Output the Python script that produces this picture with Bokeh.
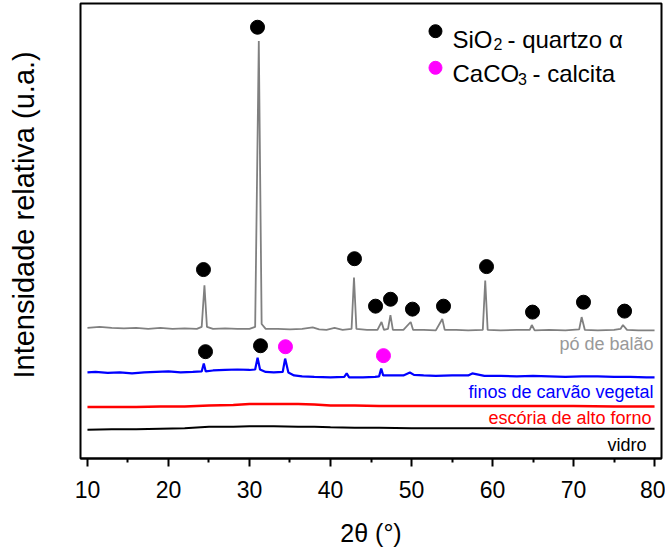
from bokeh.plotting import figure
from bokeh.models import Range1d, FixedTicker, Label
from bokeh.embed import file_html
from bokeh.resources import INLINE

# ---- data (intensity in arbitrary units, offset per sample) ----
po_x = [10.0, 11.5, 13, 14.5, 16, 17.5, 19, 20.5, 22, 23.5, 24.1, 24.44, 24.75, 25.5, 27, 28.5,
        30, 30.7, 31.15, 31.5, 32, 33.5, 35, 36.5, 37.8, 38.6, 39.5, 40.5, 41.5, 42.6, 42.9, 43.2,
        44.5, 45.8, 46.3, 46.6, 47.1, 47.4, 47.7, 49, 49.9, 50.2, 51.5, 53, 53.8, 54.1, 55.5, 57,
        58.8, 59.1, 59.4, 61, 63, 64.6, 64.85, 65.2, 67, 69, 70.7, 71.0, 71.4, 73, 75, 75.8, 76.1,
        76.6, 78, 80]
po_y = [132, 133, 132, 131.5, 132, 131, 132, 131, 131.5, 131, 133, 175, 133, 131, 131.5, 131,
        131, 133, 422, 136, 131, 131, 130.5, 131, 132.5, 130.5, 130, 132, 130, 131, 183, 131,
        130, 130, 138, 130, 131, 145, 130, 130, 138, 130, 130, 129.5, 141, 130, 130, 129.5,
        130, 180, 130, 129.5, 130, 130, 135, 129.5, 130, 129.5, 130.5, 143, 130, 129.5, 130, 131, 135,
        130, 129.5, 129.5]

finos_x = [10, 11, 12.5, 14, 15.5, 17, 18.5, 20, 21.5, 23, 24.1, 24.36, 24.6, 25.5, 27, 28.5, 30,
           30.7, 31.0, 31.3, 32, 33, 34.1, 34.4, 34.8, 35.5, 36.5, 38, 40, 41.7, 42.0, 42.3, 44,
           45.5, 46.0, 46.26, 46.5, 47.5, 49, 49.8, 50.3, 51.5, 53, 55, 57, 57.5, 59, 61, 63, 65,
           67, 69, 71, 73, 75, 77, 79, 80]
finos_y = [87, 87.5, 86.5, 87, 86, 87, 87.5, 88, 87, 87.5, 88, 96, 88, 89, 89.5, 90, 89.5,
           90, 102, 90, 87.5, 87, 87.5, 101, 87, 84, 83, 82.5, 82, 82.5, 86, 82, 82,
           82.5, 83, 91, 84, 84, 84, 87, 84.5, 84, 83.5, 84, 84, 86, 83.5, 83.5, 83, 83.5,
           83, 82.5, 83, 83, 82.5, 82.5, 82, 82]

escoria_x = [10, 13, 16, 19, 22, 25, 28, 30, 33, 36, 38, 40, 43, 46, 50, 55, 60, 65, 70, 75, 80]
escoria_y = [52, 52, 52, 52.5, 52.5, 53.5, 54, 55, 55, 55, 54.5, 53.5, 53.5, 53, 53, 53, 53, 53, 53, 52.5, 52.5]

vidro_x = [10, 13, 16, 19, 22, 25, 28, 30, 33, 36, 38, 40, 43, 46, 50, 55, 60, 65, 70, 75, 80]
vidro_y = [29, 29.5, 29.5, 30, 30.5, 32, 32, 32.5, 32.5, 32, 32, 31.5, 31, 31, 30.5, 30.5, 30.5, 30, 30, 30, 30]

# phase markers (peak identification)
quartzo_x = [24.32, 30.99, 42.96, 45.56, 47.41, 50.12, 53.95, 59.26, 64.94, 71.23, 76.30, 24.57, 31.36]
quartzo_y = [191, 436, 202, 154, 161, 151, 154, 194, 148, 158, 149, 108, 114]
calcita_x = [34.44, 46.54]
calcita_y = [113, 104]

x_ticks = [10, 20, 30, 40, 50, 60, 70, 80]
x_minor = [15, 25, 35, 45, 55, 65, 75]

FONT = "Liberation Sans"

p = figure(width=665, height=549, output_backend="svg", toolbar_location=None,
           x_range=Range1d(9.14, 80.86), y_range=Range1d(0, 460),
           min_border_left=80, min_border_right=4, min_border_top=3, min_border_bottom=86)
p.xgrid.visible = False
p.ygrid.visible = False
p.outline_line_color = "black"
p.outline_line_width = 2
p.background_fill_color = "white"
p.border_fill_color = "white"

ax = p.xaxis[0]
ax.ticker = FixedTicker(ticks=x_ticks, minor_ticks=x_minor)
ax.axis_line_width = 2
ax.major_tick_in = 0
ax.major_tick_out = 8
ax.minor_tick_in = 0
ax.minor_tick_out = 4
ax.major_tick_line_width = 2
ax.minor_tick_line_width = 2
ax.major_label_text_font = FONT
ax.major_label_text_font_size = "23px"
ax.major_label_text_color = "black"
ax.major_label_standoff = 14
ax.axis_label = "2θ (°)"
ax.axis_label_text_font = FONT
ax.axis_label_text_font_size = "25px"
ax.axis_label_text_font_style = "normal"
ax.axis_label_text_color = "black"
ax.axis_label_standoff = 18

# y axis: no ticks, only the title (leading no-break spaces lift it, as in the original)
ay = p.yaxis[0]
ay.ticker = FixedTicker(ticks=[], minor_ticks=[])
ay.axis_line_color = None
ay.major_tick_line_color = None
ay.minor_tick_line_color = None
ay.major_label_standoff = 0
ay.major_tick_out = 0
ay.minor_tick_out = 0
ay.axis_label = "\u00a0\u00a0\u00a0\u00a0Intensidade relativa (u.a.)"
ay.axis_label_text_font = FONT
ay.axis_label_text_font_size = "29px"
ay.axis_label_text_font_style = "normal"
ay.axis_label_text_color = "black"
ay.axis_label_standoff = 41

p.line(vidro_x, vidro_y, line_color="black", line_width=2)
p.line(escoria_x, escoria_y, line_color="#ff0000", line_width=2.5)
p.line(finos_x, finos_y, line_color="#0000ff", line_width=2.2)
p.line(po_x, po_y, line_color="#808080", line_width=1.8)

p.scatter(quartzo_x, quartzo_y, size=14, fill_color="black", line_color="black")
p.scatter(calcita_x, calcita_y, size=14, fill_color="#ff00ff", line_color="#ff00ff")

# sample labels
def lab(x, y, t, color, align="right", size="18px"):
    p.add_layout(Label(x=x, y=y, text=t, text_color=color, text_align=align,
                       text_baseline="alphabetic", text_font=FONT, text_font_size=size))

lab(79.88, 116, "pó de balão", "#999999")
lab(79.88, 67, "finos de carvão vegetal", "#0000ff")
lab(79.63, 41, "escória de alto forno", "#ff0000")
lab(79.0, 14, "vidro", "black")

# legend
p.scatter([52.96], [432], size=13, fill_color="black", line_color="black")
p.scatter([52.96], [395], size=13, fill_color="#ff00ff", line_color="#ff00ff")
lab(55.06, 424, "SiO", "black", align="left", size="24px")
lab(60.12, 419, "2", "black", align="left", size="16px")
lab(61.85, 424, "- quartzo α", "black", align="left", size="24px")
lab(55.06, 389, "CaCO", "black", align="left", size="24px")
lab(63.15, 384, "3", "black", align="left", size="16px")
lab(64.94, 389, "- calcita", "black", align="left", size="24px")

open("out.html", "w").write(file_html(p, INLINE))
